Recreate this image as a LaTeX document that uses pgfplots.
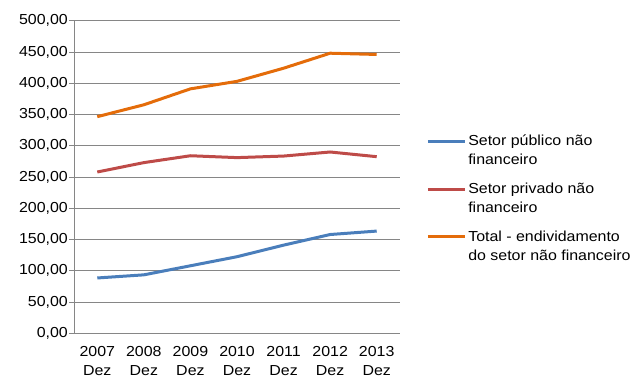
\documentclass[border=0pt]{standalone}
\usepackage{pgfplots}
\pgfplotsset{compat=1.18}
\usepackage{fontspec}
\setmainfont{Liberation Sans}[FakeStretch=1.1]
\definecolor{cblue}{HTML}{4A7EBB}
\definecolor{cred}{HTML}{BE4B48}
\definecolor{corange}{HTML}{E46C0A}
\definecolor{cgrid}{HTML}{868686}
\begin{document}
\fontsize{14.5bp}{19bp}\selectfont
\begin{tikzpicture}
\useasboundingbox (0,0) rectangle (632bp,378bp);
\begin{axis}[
  at={(74bp,44.7bp)}, anchor=south west,
  scale only axis, width=326bp, height=312.6bp,
  xmin=-0.5, xmax=6.5, ymin=0, ymax=500,
  axis lines*=left,
  axis line style={cgrid, line width=0.8bp},
  ymajorgrids, grid style={cgrid, line width=0.8bp},
  ytick distance=50,
  tick align=outside,
  major tick length=5bp,
  tick style={cgrid, line width=0.8bp},
  xtick={0,...,6},
  xticklabels={2007\\Dez,2008\\Dez,2009\\Dez,2010\\Dez,2011\\Dez,2012\\Dez,2013\\Dez},
  major x tick style={draw=none},
  extra x ticks={-0.5,0.5,1.5,2.5,3.5,4.5,5.5,6.5},
  extra x tick labels={},
  extra x tick style={major tick length=5bp, tick style={cgrid, line width=0.8bp}},
  xticklabel style={align=center, font=\fontsize{14.5bp}{19bp}\selectfont, inner sep=1bp, yshift=-7bp},
  yticklabel style={font=\fontsize{14.5bp}{19bp}\selectfont, inner sep=1bp},
  /pgf/number format/assume math mode=true,
  yticklabel={\pgfmathprintnumber[fixed, fixed zerofill, precision=2, use comma, 1000 sep={}]{\tick}},
  legend style={at={(1.08,0.641)}, anchor=north west, draw=none, fill=none, inner sep=0pt,
    font=\fontsize{14.5bp}{19bp}\selectfont, row sep=12bp, column sep=0pt,
    nodes={align=left, inner sep=2bp}},
  legend cell align=left,
  legend image code/.code={\draw[#1, line width=3bp] (0bp,9.5bp) -- (37bp,9.5bp);},
  every axis plot/.append style={line width=3bp, line join=round},
]
\addplot[cblue, no marks] coordinates {(0,88.5) (1,93.5) (2,108) (3,122.5) (4,141) (5,158) (6,163.5)};
\addlegendentry{Setor público não\\financeiro}
\addplot[cred, no marks] coordinates {(0,258) (1,273) (2,284) (3,281) (4,283.5) (5,290) (6,282.5)};
\addlegendentry{Setor privado não\\financeiro}
\addplot[corange, no marks] coordinates {(0,346.5) (1,365.5) (2,391) (3,403) (4,424) (5,448) (6,446)};
\addlegendentry{Total - endividamento\\do setor não financeiro}
\end{axis}
\end{tikzpicture}
\end{document}
